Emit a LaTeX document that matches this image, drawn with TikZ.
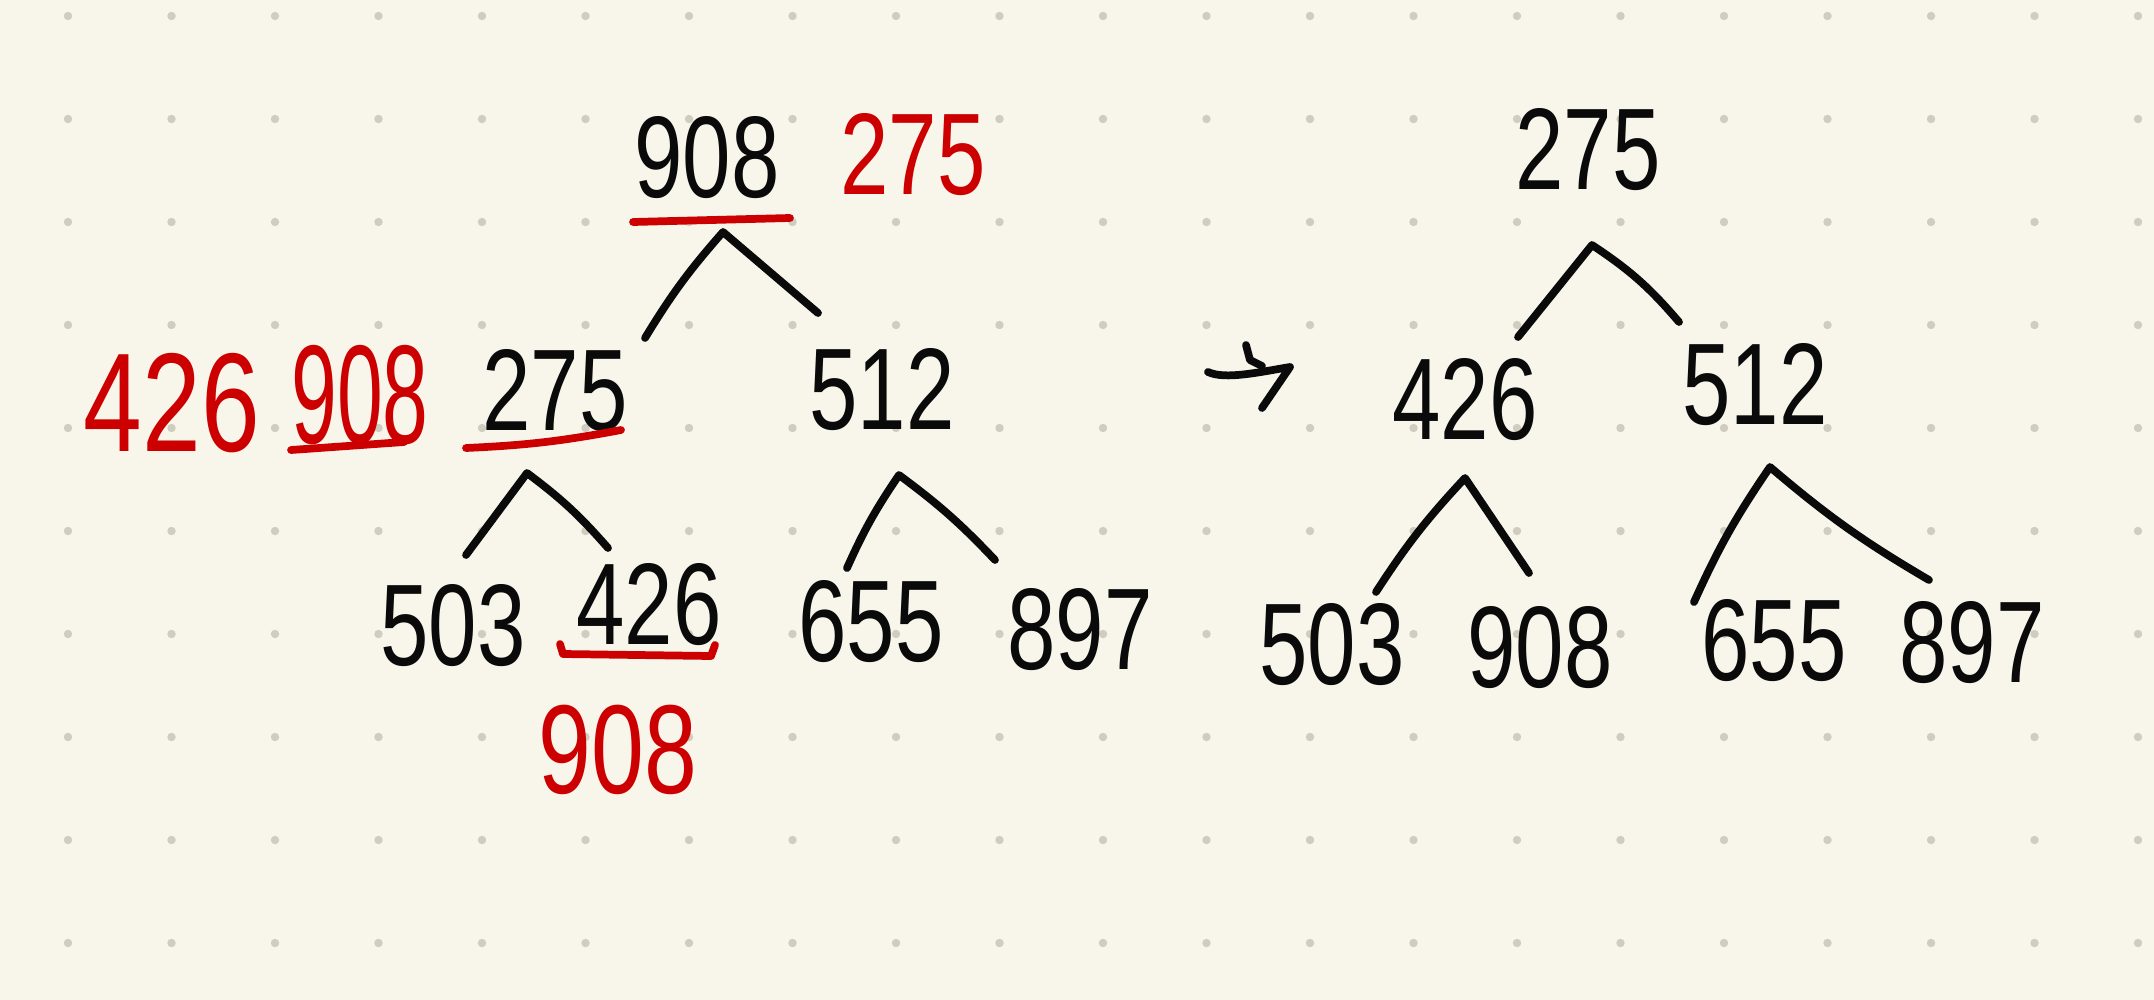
\documentclass[tikz,border=0pt]{standalone}
\usepackage{fontspec}
\setmainfont{Liberation Sans}[FakeStretch=0.75]
\definecolor{paper}{HTML}{F8F6EA}
\definecolor{dotc}{HTML}{CFCCC0}
\definecolor{ink}{HTML}{0A0A0A}
\definecolor{redink}{HTML}{CC0000}
\begin{document}
\begin{tikzpicture}[x=0.01cm,y=-0.01cm,
  num/.style={inner sep=0pt, font=\fontsize{33}{36}\selectfont, text=ink},
  rnum/.style={num, text=redink},
  bignum/.style={font=\fontsize{40}{42}\selectfont},
  midnum/.style={font=\fontsize{36}{40}\selectfont},
  stroke/.style={draw=ink, line width=2.2pt, line cap=round, line join=round},
  rstroke/.style={stroke, draw=redink}]
\fill[paper] (0,0) rectangle (2154,1000);
\useasboundingbox (0,0) rectangle (2154,1000);
\foreach \i in {0,...,20}{\foreach \j in {0,...,9}{\fill[dotc] ({68+103.5*\i},{16+103*\j}) circle (1.2pt);}}

% ---------- left tree ----------
\node[num] (root) at (707,158) {908};
\node[rnum] (rootnew) at (913,155) {275};
\node[num] (l275) at (555,391) {275};
\node[rnum,bignum] (l908red) at (360,395) {\scalebox{0.78}[1]{908}};
\node[rnum,bignum] (l426red) at (172,403) {426};
\node[num] (l512) at (882,390) {512};
\node[num] (l503) at (453,626) {503};
\node[num] (l426) at (649,605) {426};
\node[rnum,midnum] (l908b) at (618,750) {908};
\node[num] (l655) at (871,622) {655};
\node[num] (l897) at (1080,630) {897};

% strike lines
\coordinate (s1a) at (633,222); \coordinate (s1b) at (790,218);
\coordinate (s2a) at (466,448); \coordinate (s2b) at (621,430);
\coordinate (s3a) at (291,450); \coordinate (s3b) at (404,442);
\coordinate (s4a) at (560,644); \coordinate (s4b) at (715,645);
\draw[rstroke] (s1a) -- (s1b);
\draw[rstroke] (s2a) to[bend right=4] (s2b);
\draw[rstroke] (s3a) -- (s3b);
\draw[rstroke] (s4a) -- (563,654) -- (711,656) -- (s4b);

% edges
\coordinate (a1) at (723,232); \coordinate (a1l) at (645,338); \coordinate (a1r) at (818,313);
\coordinate (a2) at (527,473); \coordinate (a2l) at (466,555); \coordinate (a2r) at (608,548);
\coordinate (a3) at (899,475); \coordinate (a3l) at (847,568); \coordinate (a3r) at (995,560);
\draw[stroke] (a1l) to[bend left=5] (a1) -- (a1r);
\draw[stroke] (a2l) -- (a2) to[bend left=6] (a2r);
\draw[stroke] (a3l) to[bend left=5] (a3) to[bend left=5] (a3r);

% ---------- arrow ----------
\coordinate (ar1) at (1208,372); \coordinate (ar2) at (1290,367); \coordinate (ar3) at (1262,408);
\draw[stroke] (1246,345) -- (1250,360) -- (1262,366);
\draw[stroke] (ar1) .. controls (1225,380) and (1260,372) .. (ar2) -- (ar3);

% ---------- right tree ----------
\node[num] (r275) at (1588,150) {275};
\node[num] (r426) at (1465,400) {426};
\node[num] (r512) at (1755,385) {512};
\node[num] (r503) at (1332,645) {503};
\node[num] (r908) at (1540,648) {908};
\node[num] (r655) at (1774,641) {655};
\node[num] (r897) at (1972,643) {897};

\coordinate (b1) at (1592,245); \coordinate (b1l) at (1518,337); \coordinate (b1r) at (1679,322);
\coordinate (b2) at (1465,478); \coordinate (b2l) at (1376,592); \coordinate (b2r) at (1529,573);
\coordinate (b3) at (1770,467); \coordinate (b3l) at (1694,602); \coordinate (b3r) at (1929,580);
\draw[stroke] (b1l) -- (b1) to[bend left=8] (b1r);
\draw[stroke] (b2l) to[bend left=5] (b2) -- (b2r);
\draw[stroke] (b3l) to[bend left=5] (b3) to[bend right=5] (b3r);
\end{tikzpicture}
\end{document}
